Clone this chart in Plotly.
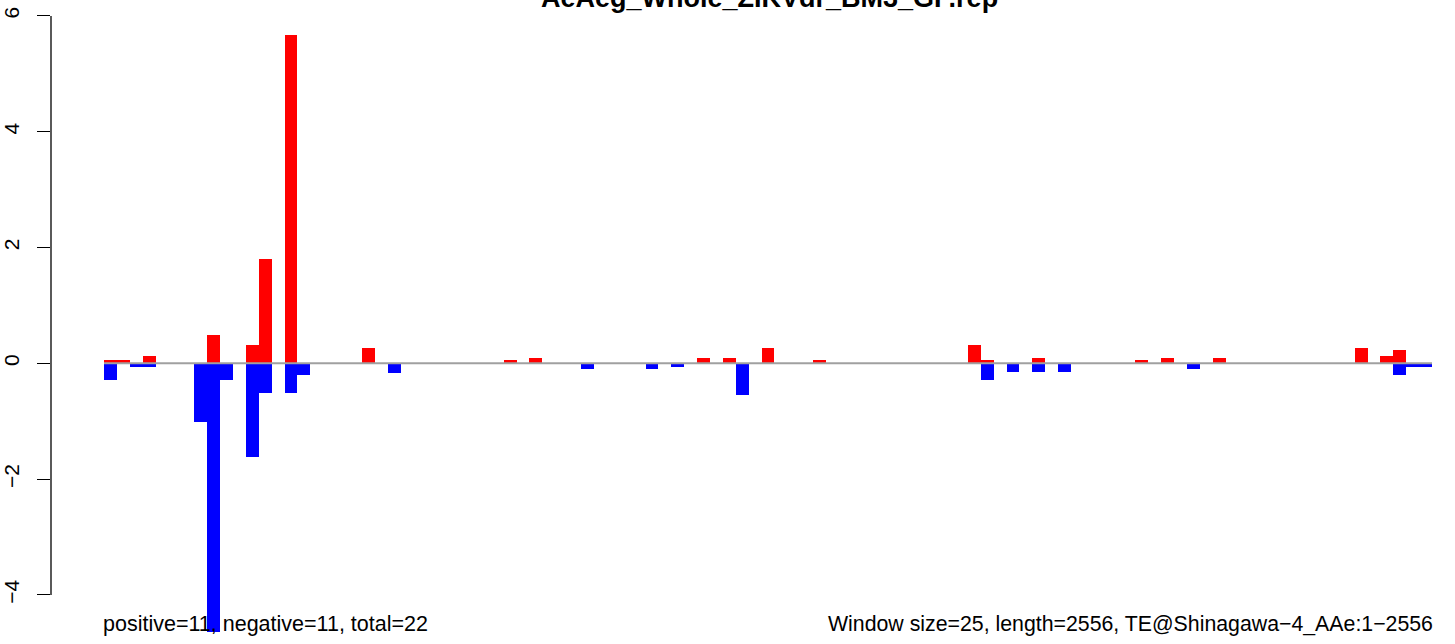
import plotly.graph_objects as go

# window index -> value (window size 25 along 2556 bp, 103 windows)
red_windows = [0, 1, 3, 8, 11, 12, 14, 20, 31, 33, 46, 48, 51, 55, 67, 68, 72, 80, 82, 86, 97, 99, 100]
red_values = [0.05, 0.05, 0.12, 0.49, 0.31, 1.80, 5.67, 0.26, 0.05, 0.10, 0.10, 0.10, 0.26, 0.05,
              0.31, 0.05, 0.10, 0.05, 0.10, 0.10, 0.26, 0.13, 0.23]

blue_windows = [0, 2, 3, 7, 8, 9, 11, 12, 14, 15, 22, 37, 42, 44, 49, 68, 70, 72, 74, 84, 100, 101, 102]
blue_values = [-0.28, -0.07, -0.07, -1.01, -4.70, -0.29, -1.62, -0.52, -0.52, -0.21, -0.16, -0.10,
               -0.10, -0.06, -0.55, -0.29, -0.15, -0.15, -0.15, -0.10, -0.20, -0.06, -0.06]

n_windows = 103
y_ticks = [-4, -2, 0, 2, 4, 6]

title_text = "AeAeg_Whole_ZIKVdr_BM3_GP.rep"
left_note = "positive=11, negative=11, total=22"
right_note = "Window size=25, length=2556, TE@Shinagawa\u22124_AAe:1\u22122556"

font_family = "Liberation Sans, Arial, Helvetica, sans-serif"

fig = go.Figure()
fig.add_trace(go.Bar(x=red_windows, y=red_values, width=1,
                     marker=dict(color="#FF0000", line=dict(width=0)),
                     showlegend=False, hoverinfo="x+y"))
fig.add_trace(go.Bar(x=blue_windows, y=blue_values, width=1,
                     marker=dict(color="#0000FF", line=dict(width=0)),
                     showlegend=False, hoverinfo="x+y"))

# zero line across the bars
fig.add_shape(type="line", xref="x", yref="y", x0=-0.5, x1=n_windows - 0.5, y0=0, y1=0,
              line=dict(color="#A0A0A0", width=2), layer="above")
# R-style y axis line only between first and last tick
fig.add_shape(type="line", xref="paper", yref="y", x0=0, x1=0, y0=min(y_ticks), y1=max(y_ticks),
              line=dict(color="black", width=1.3), layer="above")

fig.add_annotation(text="<b>%s</b>" % title_text, xref="paper", yref="paper",
                   x=(769 - 51) / (1455 - 51), y=1, xanchor="center", yanchor="bottom",
                   yshift=-15, showarrow=False,
                   font=dict(family=font_family, size=27, color="black"))
fig.add_annotation(text=left_note, xref="x", yref="paper", x=-0.5, y=0,
                   xanchor="left", yanchor="bottom", xshift=-3, yshift=-6, showarrow=False,
                   font=dict(family=font_family, size=21.5, color="black"))
fig.add_annotation(text=right_note, xref="x", yref="paper", x=n_windows - 0.5, y=0,
                   xanchor="right", yanchor="bottom", xshift=3, yshift=-6, showarrow=False,
                   font=dict(family=font_family, size=21.3, color="black"))

px_per_bar = 1328 / n_windows
fig.update_layout(
    width=1455, height=644,
    margin=dict(l=51, r=0, t=0, b=12, pad=0, autoexpand=False),
    plot_bgcolor="white", paper_bgcolor="white",
    barmode="overlay", bargap=0,
    font=dict(family=font_family, size=21, color="black"),
    xaxis=dict(range=[-0.5 - 53 / px_per_bar, -0.5 + (1455 - 104) / px_per_bar],
               visible=False, showgrid=False, zeroline=False, automargin=False),
    yaxis=dict(range=[-(632 - 363.3) / 57.9, 363.3 / 57.9],
               tickvals=y_ticks, ticktext=[str(v).replace("-", "\u2212") for v in y_ticks],
               ticks="outside", ticklen=13, tickwidth=1.3, tickcolor="black",
               tickangle=-90, ticklabelstandoff=10, automargin=False,
               showgrid=False, zeroline=False, showline=False),
)

# drop the default 8px page margin so the figure sits at the window's corner
fig.write_html("out.html", config={"displayModeBar": False},
               post_script="document.body.style.margin='0';")
